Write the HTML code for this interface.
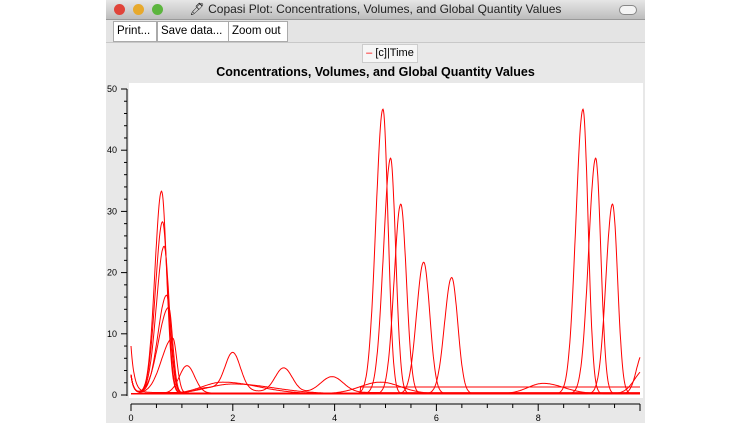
<!DOCTYPE html>
<html><head><meta charset="utf-8"><style>
body{margin:0;width:752px;height:423px;background:#fff;position:relative;overflow:hidden;font-family:"Liberation Sans",sans-serif}
.win{position:absolute;left:106px;top:0;width:539px;height:423px;background:#e8e8e8}
.tb{position:absolute;left:0;top:0;width:539px;height:19px;background:linear-gradient(#e6e6e6,#bdbdbd);border-bottom:1px solid #999;font-size:12px;text-align:center;line-height:19px;color:#222}
.dot{position:absolute;top:4px;width:11px;height:11px;border-radius:50%}
.btn{position:absolute;top:21px;height:19px;background:#fff;border:1px solid #aaa;font-size:11.5px;line-height:19px;padding:0 3px;color:#000}
</style></head><body>
<div class="win">
<div class="tb">&#x1F58A; Copasi Plot: Concentrations, Volumes, and Global Quantity Values
<div class="dot" style="left:8px;background:#e0443a"></div><div class="dot" style="left:27px;background:#e7a92c"></div><div class="dot" style="left:46px;background:#5cb53e"></div>
<div style="position:absolute;right:8px;top:5px;width:16px;height:8px;border:1px solid #888;border-radius:5px;background:#f4f4f4"></div></div>
<div style="position:absolute;left:0;top:20px;width:539px;height:22px;background:#e4e4e4;border-bottom:1px solid #c8c8c8"></div>
<div class="btn" style="left:7px;width:36px">Print...</div>
<div class="btn" style="left:51px;width:64px">Save data...</div>
<div class="btn" style="left:122px;width:52px">Zoom out</div>
<div style="position:absolute;left:256px;top:44px;width:54px;height:17px;background:#f6f6f6;border:1px solid #ccc;font-size:11px;line-height:17px;text-align:center"><span style="color:red">–</span> [c]|Time</div>
<div style="position:absolute;left:0;top:65px;width:539px;text-align:center;font-weight:bold;font-size:12.5px">Concentrations, Volumes, and Global Quantity Values</div>
</div>
<svg id="s" width="752" height="423" style="position:absolute;left:0;top:0" font-family="Liberation Sans" font-size="9"></svg>
<script>
const s=document.getElementById('s');let h='';
const X=t=>131+50.9*t,Y=v=>395-6.12*v;
h+='<rect x="129" y="83" width="514" height="315" fill="#fff"/>';
h+='<line x1="127" y1="89" x2="127" y2="396" stroke="#000"/>';
for(let v=0;v<=50;v+=2){let y=Y(v),m=v%10==0;h+=`<line x1="${m?121:124}" y1="${y}" x2="127" y2="${y}" stroke="#000"/>`;if(m)h+=`<text x="117" y="${y+3}" text-anchor="end">${v}</text>`}
h+='<line x1="131" y1="404" x2="640" y2="404" stroke="#000"/>';
for(let t=0;t<=10;t+=0.5){let x=X(t),m=t%2==0;h+=`<line x1="${x}" y1="404" x2="${x}" y2="${m?411:408}" stroke="#000"/>`;if(m&&t<10)h+=`<text x="${x}" y="421" text-anchor="middle">${t}</text>`}
function bump(c,a,sl,sr,t){let d=t-c,s=d<0?sl:sr;return a*Math.exp(-d*d/(2*s*s))}
const curves=[];
const early=[[0.6,33,0.13,0.1],[0.62,28,0.14,0.1],[0.65,24,0.15,0.1],[0.7,16,0.17,0.09],[0.74,14,0.2,0.08],[0.82,9,0.22,0.08],[1.1,4.5,0.15,0.15]];
early.forEach(p=>curves.push(t=>0.3+bump(...p,t)+ (t<0.3?3*Math.exp(-t*20):0)));
curves.push(t=>0.4+7.6*Math.exp(-t*15)+bump(2,6,0.15,0.15,t)+bump(3,4,0.17,0.17,t)+bump(3.95,2.6,0.22,0.22,t)+bump(1.5,0.8,0.2,0.6,t));
curves.push(t=>0.2+bump(1.8,1.9,0.4,0.7,t)+bump(4.9,1.9,0.4,0.4,t)+bump(8.1,1.7,0.3,0.4,t));
curves.push(t=>0.2+bump(2.0,1.6,0.5,0.8,t));
curves.push(t=>0.2+bump(4.95,46.5,0.14,0.1,t)+bump(8.88,46.5,0.14,0.1,t));
curves.push(t=>0.2+bump(5.1,38.5,0.14,0.1,t)+bump(9.13,38.5,0.14,0.1,t));
curves.push(t=>0.2+bump(5.3,31,0.13,0.11,t)+bump(9.46,31,0.13,0.1,t));
curves.push(t=>0.2+bump(5.75,21.5,0.14,0.12,t)+bump(10.05,6.5,0.12,0.12,t));
curves.push(t=>0.2+bump(6.3,19,0.14,0.12,t)+bump(10.1,4,0.2,0.2,t));
curves.push(t=>t<4.5?0.2:1.3);
curves.forEach(f=>{let p=[];for(let t=0;t<=10.001;t+=0.01)p.push(X(t).toFixed(1)+','+Y(f(t)).toFixed(1));h+=`<polyline points="${p.join(' ')}" fill="none" stroke="#f00" stroke-width="1"/>`});
s.innerHTML=h;
</script>
</body></html>
